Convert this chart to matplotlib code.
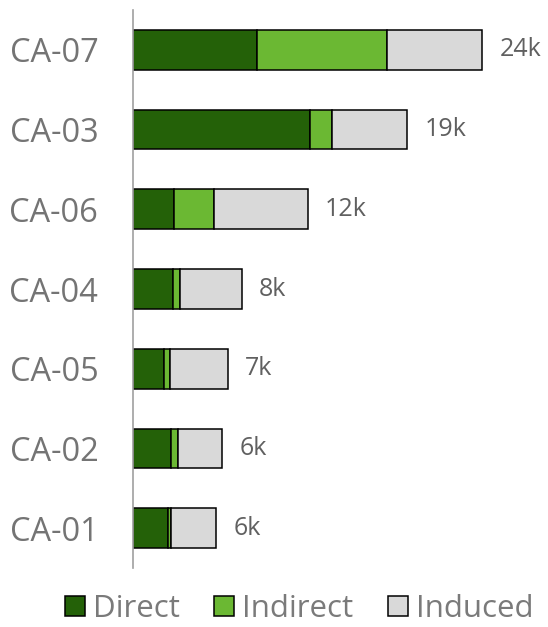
import matplotlib
matplotlib.use("Agg")
import matplotlib.pyplot as plt
from matplotlib.patches import Patch

categories = ["CA-07", "CA-03", "CA-06", "CA-04", "CA-05", "CA-02", "CA-01"]
direct = [8.5, 12.17, 2.82, 2.77, 2.16, 2.61, 2.43]
indirect = [8.95, 1.52, 2.75, 0.46, 0.38, 0.46, 0.18]
induced = [6.55, 5.15, 6.44, 4.24, 3.97, 3.07, 3.10]
labels = ["24k", "19k", "12k", "8k", "7k", "6k", "6k"]
series_names = ["Direct", "Indirect", "Induced"]
colors = ["#246108", "#6BB833", "#D9D9D9"]

plt.rcParams["font.family"] = ["Open Sans", "DejaVu Sans"]
W, H = 548, 627
fig = plt.figure(figsize=(W / 100, H / 100), dpi=100)
ax = fig.add_axes([133 / W, 1 - 568 / H, (540 - 133) / W, (568 - 10) / H])

y = list(range(len(categories)))
left = [0.0] * len(categories)
for vals, col in zip([direct, indirect, induced], colors):
    ax.barh(y, vals, left=left, height=0.5, color=col, edgecolor="black", linewidth=1.1, zorder=2)
    left = [l + v for l, v in zip(left, vals)]

for yi, tot, lab in zip(y, left, labels):
    ax.text(tot + 1.2, yi, lab, va="center", ha="left", fontsize=18, color="#606060")

ax.set_ylim(len(categories) - 0.5, -0.5)
ax.set_xlim(0, 28)
ax.set_yticks(y)
ax.set_yticklabels(categories, fontsize=23.5, color="#747474")
ax.tick_params(axis="y", length=0, pad=25)
ax.set_xticks([])
for s in ["top", "right", "bottom"]:
    ax.spines[s].set_visible(False)
ax.spines["left"].set_color("#A0A0A0")
ax.spines["left"].set_linewidth(1.2)
ax.spines["left"].set_zorder(3)

handles = [Patch(facecolor=c, edgecolor="black", linewidth=1.1) for c in colors]
fig.legend(handles, series_names, loc="center", bbox_to_anchor=(299 / W, 1 - 609 / H),
           ncol=3, frameon=False, fontsize=22.5, labelcolor="#7A7A7A",
           handlelength=0.65, handleheight=0.65, handletextpad=0.25, columnspacing=1.1,
           borderpad=0.2)

fig.savefig("out.png", dpi=100)
